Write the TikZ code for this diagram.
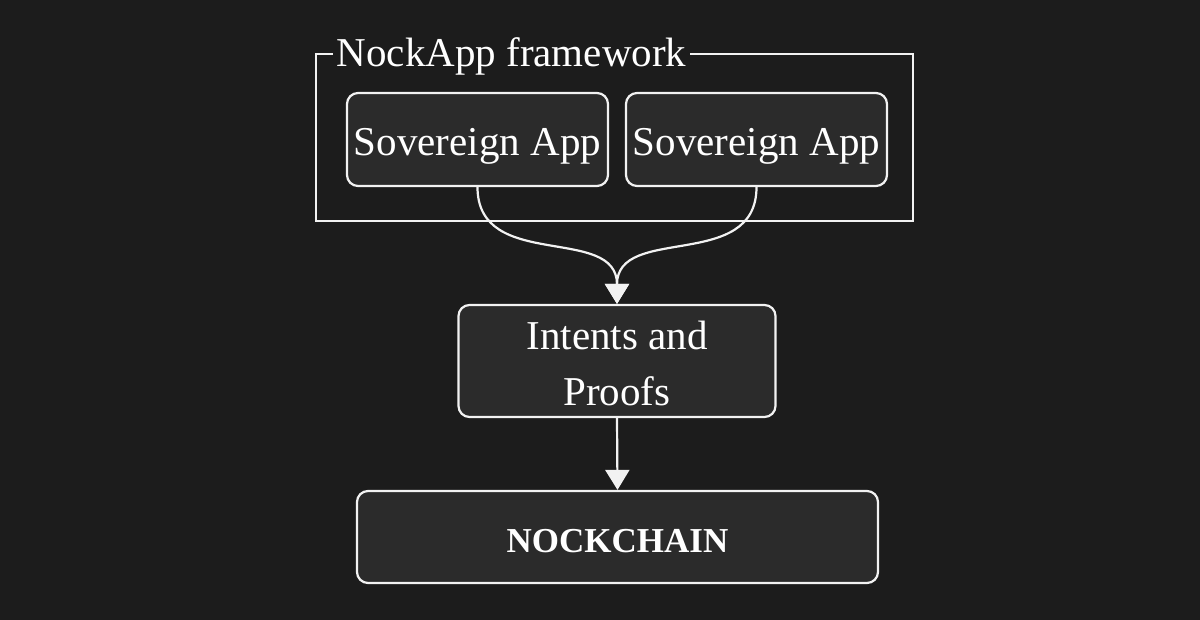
\documentclass[tikz,border=0pt]{standalone}
\usepackage{fontspec}
\setmainfont{Liberation Serif}
\usetikzlibrary{arrows.meta}
\definecolor{bgc}{RGB}{28,28,28}
\definecolor{boxc}{RGB}{43,43,43}
\definecolor{linec}{RGB}{242,242,242}
\tikzset{
  box/.style={draw=linec, line width=2.2pt, fill=boxc, rounded corners=11pt, text=white, inner sep=0pt,
    font=\fontsize{41}{56}\selectfont, text height=33pt, text depth=0pt},
  frm/.style={draw=linec, line width=2.2pt, inner sep=0pt},
  ttl/.style={fill=bgc, text=white, inner xsep=4pt, inner ysep=0pt, font=\fontsize{41}{48}\selectfont, anchor=base},
  arr/.style={draw=linec, line width=2.2pt, -{Triangle[length=20pt,width=24pt]}}
}
\begin{document}
\begin{tikzpicture}[x=1pt,y=-1pt]
\fill[bgc] (0,0) rectangle (1200,620);
\useasboundingbox (0,0) rectangle (1200,620);
\node[frm, minimum width=597pt, minimum height=167pt] (fw) at (614.5,137.5) {};
\node[ttl] (fwt) at (511.5,67) {NockApp framework};
\node[box, minimum width=261pt, minimum height=93pt] (s1) at (477.5,139.5) {Sovereign App};
\node[box, minimum width=261pt, minimum height=93pt] (s2) at (756.5,139.5) {Sovereign App};
\node[box, minimum width=317pt, minimum height=112pt, align=center, text height=89pt] (ip) at (617,361) {Intents and\\Proofs};
\node[box, minimum width=521pt, minimum height=92pt, font=\fontsize{35}{42}\selectfont\bfseries, text height=30pt] (nc) at (617.5,537) {NOCKCHAIN};
\draw[arr] (s1.south) .. controls +(0,85) and +(0,-80) .. (ip.north);
\draw[arr] (s2.south) .. controls +(0,85) and +(0,-80) .. (ip.north);
\draw[arr] (ip.south) -- (nc.north);
\end{tikzpicture}
\end{document}
